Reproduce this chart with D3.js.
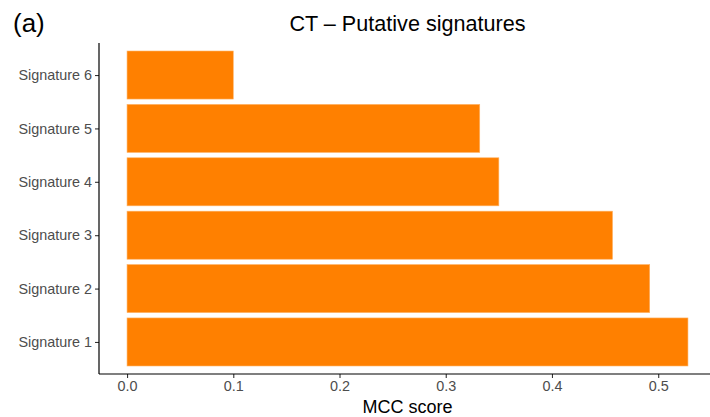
<!DOCTYPE html>
<html>
<head>
<meta charset="utf-8">
<script src="https://cdn.jsdelivr.net/npm/d3@7"></script>
<style>
  html, body { margin: 0; padding: 0; background: #fff; }
  svg { display: block; font-family: "Liberation Sans", Arial, Helvetica, sans-serif; }
</style>
</head>
<body>
<svg id="chart" width="710" height="417"></svg>
<script>
const categories = ["Signature 1", "Signature 2", "Signature 3", "Signature 4", "Signature 5", "Signature 6"];
const mccValues = [0.528, 0.492, 0.457, 0.350, 0.332, 0.100];
const xTicks = [0.0, 0.1, 0.2, 0.3, 0.4, 0.5];
const titleText = "CT \u2013 Putative signatures";
const panelLabel = "(a)";
const xAxisTitle = "MCC score";

const data = categories.map((c, i) => ({ name: c, value: mccValues[i] }));

const svg = d3.select("#chart");
const panel = { left: 99, right: 716, top: 43, bottom: 374 };

const maxV = d3.max(mccValues);
const pad = maxV * 0.05;
const x = d3.scaleLinear().domain([-pad, maxV + pad]).range([panel.left, panel.right]);

// discrete scale with ggplot-like expansion (0.6 units each side)
const n = categories.length;
const step = (panel.bottom - panel.top) / (n - 1 + 1.2);
const yPos = d3.scalePoint()
  .domain(categories.slice().reverse())
  .range([panel.top + 0.6 * step, panel.bottom - 0.6 * step]);
const barH = step * 0.9;

// bars
svg.append("g").selectAll("rect").data(data).join("rect")
  .attr("x", x(0))
  .attr("y", d => yPos(d.name) - barH / 2)
  .attr("width", d => x(d.value) - x(0))
  .attr("height", barH)
  .attr("fill", "#ff8000")
  .attr("stroke", "#ffb366")
  .attr("stroke-width", 0.6);

// x axis
const xAxis = d3.axisBottom(x).tickValues(xTicks).tickFormat(d3.format(".1f")).tickSize(4).tickPadding(3);
const gx = svg.append("g").attr("transform", `translate(0,${panel.bottom})`).call(xAxis);
gx.select(".domain").remove();
gx.append("line").attr("x1", panel.left).attr("x2", panel.right).attr("y1", 0).attr("y2", 0)
  .attr("stroke", "#000").attr("stroke-width", 1.2);
gx.selectAll(".tick line").attr("stroke", "#333").attr("stroke-width", 1.1);
gx.selectAll(".tick text").attr("fill", "#4d4d4d").style("font-size", "14.4px").attr("dy", "0.71em");

// y axis
const yAxis = d3.axisLeft(yPos).tickSize(4).tickPadding(3);
const gy = svg.append("g").attr("transform", `translate(${panel.left},0)`).call(yAxis);
gy.select(".domain").remove();
gy.append("line").attr("x1", 0).attr("x2", 0).attr("y1", panel.top).attr("y2", panel.bottom)
  .attr("stroke", "#000").attr("stroke-width", 1.2);
gy.selectAll(".tick line").attr("stroke", "#333").attr("stroke-width", 1.1);
gy.selectAll(".tick text").attr("fill", "#4d4d4d").style("font-size", "14.4px");

// titles
svg.append("text").attr("x", (panel.left + panel.right) / 2).attr("y", 31)
  .attr("text-anchor", "middle").style("font-size", "21.6px").attr("fill", "#000").text(titleText);
svg.append("text").attr("x", 13).attr("y", 32)
  .style("font-size", "26px").attr("fill", "#000").text(panelLabel);
svg.append("text").attr("x", (panel.left + panel.right) / 2).attr("y", 413)
  .attr("text-anchor", "middle").style("font-size", "18px").attr("fill", "#000").text(xAxisTitle);
</script>
</body>
</html>
